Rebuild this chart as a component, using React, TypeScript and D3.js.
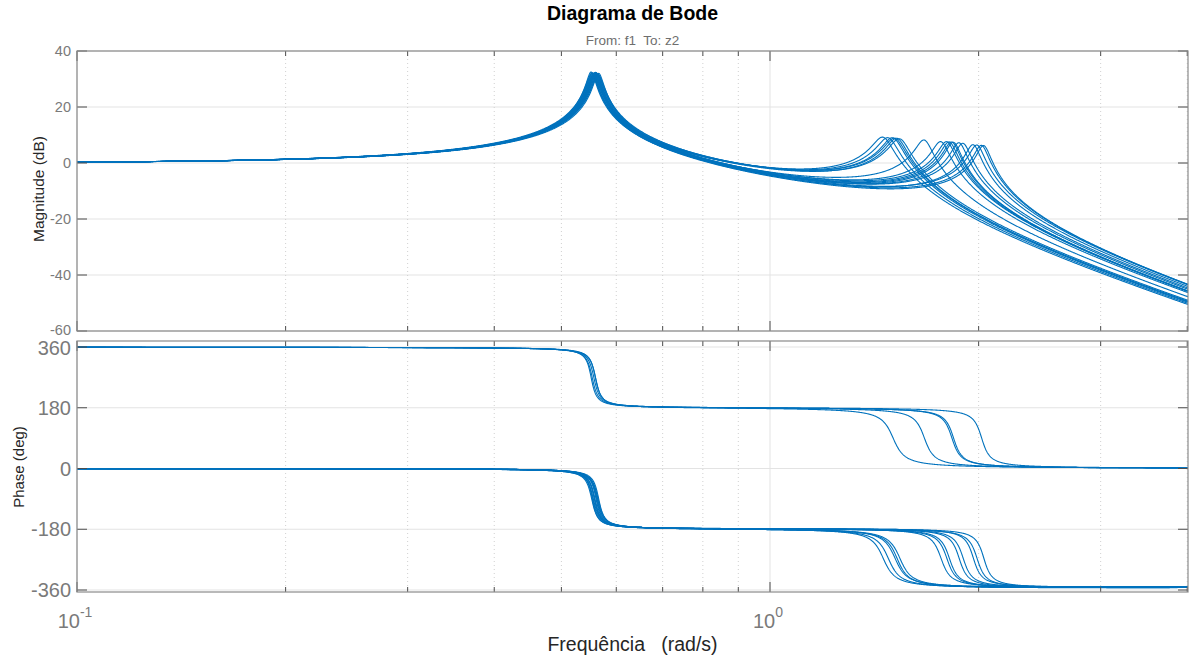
import React from "react";
import * as d3 from "d3";

// Leituras do gráfico (rad/s, dB) — uma entrada por curva da família
const mode1Freq = [0.553, 0.556, 0.56, 0.563, 0.558, 0.565, 0.554, 0.561, 0.557, 0.564, 0.552, 0.559, 0.562, 0.555, 0.566, 0.56, 0.554, 0.558];
const mode1PeakDb = [32.0, 31.6, 32.4, 31.8, 32.2, 31.5, 32.0, 32.3, 31.7, 31.9, 32.5, 31.6, 32.1, 31.8, 32.0, 31.9, 32.2, 31.7];
const mode2Freq = [1.457, 1.482, 1.505, 1.515, 1.526, 1.54, 1.67, 1.765, 1.83, 1.8, 1.84, 1.815, 1.9, 1.965, 1.99, 2.02, 2.035, 1.875];
const mode2PeakDb = [9.2, 9.0, 9.0, 8.8, 8.8, 8.6, 8.2, 7.6, 7.5, 7.6, 7.4, 7.5, 7.0, 6.5, 6.4, 6.3, 6.2, 7.2];
// fase inicial exibida (0° ou 360°, como no gráfico)
const phaseStart = [0, 0, 360, 0, 0, 0, 360, 0, 360, 0, 360, 0, 0, 0, 0, 360, 0, 0];
// zero do amortecedor (rad/s); 0 = sem zero
const zeroFreq = [30, 36, 0, 26, 40, 32, 0, 28, 0, 38, 0, 34, 30, 26, 42, 0, 32, 36];

const magTicks = [-60, -40, -20, 0, 20, 40];
const phaseTicks = [-360, -180, 0, 180, 360];
const freqMajorTicks = [0.1, 1];
const freqMinorTicks = [0.2, 0.3, 0.4, 0.5, 0.6, 0.7, 0.8, 0.9, 2, 3, 4];
const freqTickLabels = [
  { value: 0.1, base: "10", exp: "-1" },
  { value: 1, base: "10", exp: "0" },
];

const W = 1196;
const H = 662;
const left = 77;
const right = 1188;
const magTop = 51;
const magBottom = 331;
const phTop = 341;
const phBottom = 592;

const font = "'Liberation Sans', Arial, sans-serif";
const lineColor = "#0072BD";
const gridColor = "#e3e3e3";
const boxColor = "#8a8a8a";
const tickColor = "#4d4d4d";
const labelGray = "#7a7a7a";

const x = d3.scaleLog().domain([0.1, 4.01]).range([left, right]);
const yMag = d3.scaleLinear().domain([-60, 40]).range([magBottom, magTop]);
const yPh = d3.scaleLinear().domain([-360, 360]).range([590, 347]);

// amostras de frequência (log) para traçar a resposta
const freqs = d3.range(0, 2401).map((k) => Math.pow(10, -1 + (k / 2400) * Math.log10(40.1)));

function buildCurve(i: number) {
  const w1 = mode1Freq[i];
  const w2 = mode2Freq[i];
  const wz = zeroFreq[i];
  const z1 = 1 / Math.abs(1 - (w1 / w2) ** 2) / (2 * Math.pow(10, mode1PeakDb[i] / 20));
  const z2 = 1 / Math.abs(1 - (w2 / w1) ** 2) / (2 * Math.pow(10, mode2PeakDb[i] / 20));
  return freqs.map((w) => {
    const r1 = w / w1;
    const r2 = w / w2;
    const a = 1 - r1 * r1;
    const b = 2 * z1 * r1;
    const c = 1 - r2 * r2;
    const d = 2 * z2 * r2;
    const num = wz > 0 ? Math.sqrt(1 + (w / wz) ** 2) : 1;
    const lead = wz > 0 ? Math.atan(w / wz) : 0;
    const mag = num / (Math.sqrt(a * a + b * b) * Math.sqrt(c * c + d * d));
    const ph = ((lead - Math.atan2(b, a) - Math.atan2(d, c)) * 180) / Math.PI + phaseStart[i];
    return { w, db: 20 * Math.log10(mag), ph };
  });
}

const curves = mode1Freq.map((_, i) => buildCurve(i));

const magLine = d3
  .line<{ w: number; db: number; ph: number }>()
  .x((d) => x(d.w))
  .y((d) => yMag(d.db));
const phLine = d3
  .line<{ w: number; db: number; ph: number }>()
  .x((d) => x(d.w))
  .y((d) => yPh(d.ph));

function Frame({ top, bottom, yTicks, yScale }: any) {
  return (
    <g>
      {/* grade horizontal */}
      {yTicks.map((t: number) => (
        <line key={"g" + t} x1={left} x2={right} y1={yScale(t)} y2={yScale(t)} stroke={gridColor} strokeWidth={1} />
      ))}
      {/* grade vertical */}
      {freqMinorTicks.map((f) => (
        <line key={"m" + f} x1={x(f)} x2={x(f)} y1={top} y2={bottom} stroke="#d0d0d0" strokeWidth={1} strokeDasharray="1,3" />
      ))}
      {freqMajorTicks.map((f) => (
        <line key={"M" + f} x1={x(f)} x2={x(f)} y1={top} y2={bottom} stroke={gridColor} strokeWidth={1} />
      ))}
    </g>
  );
}

function FrameTicks({ top, bottom, yTicks, yScale }: any) {
  return (
    <g stroke={tickColor} strokeWidth={1}>
      {yTicks.map((t: number) => (
        <g key={"t" + t}>
          <line x1={left} x2={left + 10} y1={yScale(t)} y2={yScale(t)} />
          <line x1={right - 10} x2={right} y1={yScale(t)} y2={yScale(t)} />
        </g>
      ))}
      {freqMinorTicks.map((f) => (
        <g key={"mt" + f}>
          <line x1={x(f)} x2={x(f)} y1={bottom} y2={bottom - 5} />
          <line x1={x(f)} x2={x(f)} y1={top} y2={top + 5} />
        </g>
      ))}
      {freqMajorTicks.map((f) => (
        <g key={"Mt" + f}>
          <line x1={x(f)} x2={x(f)} y1={bottom} y2={bottom - 10} />
          <line x1={x(f)} x2={x(f)} y1={top} y2={top + 10} />
        </g>
      ))}
      <rect x={left} y={top} width={right - left} height={bottom - top} fill="none" stroke={boxColor} strokeWidth={1.2} />
    </g>
  );
}

export default function App() {
  return (
    <svg
      width={W}
      height={H}
      style={{ position: "absolute", left: 0, top: 0, background: "#fff", fontFamily: font }}
    >
      <rect x={0} y={0} width={W} height={H} fill="#fff" />

      <text x={(left + right) / 2} y={20} textAnchor="middle" fontSize={19.5} fontWeight="bold" fill="#000">
        Diagrama de Bode
      </text>
      <text x={(left + right) / 2} y={45} textAnchor="middle" fontSize={13.5} fill="#6e6e6e" style={{ whiteSpace: "pre" }}>
        {"From: f1  To: z2"}
      </text>

      <Frame top={magTop} bottom={magBottom} yTicks={magTicks} yScale={yMag} />
      <Frame top={phTop} bottom={phBottom} yTicks={phaseTicks} yScale={yPh} />

      <g fill="none" stroke={lineColor} strokeWidth={1.1}>
        {curves.map((c, i) => (
          <path key={"mag" + i} d={magLine(c) || ""} />
        ))}
        {curves.map((c, i) => (
          <path key={"ph" + i} d={phLine(c) || ""} />
        ))}
      </g>

      <FrameTicks top={magTop} bottom={magBottom} yTicks={magTicks} yScale={yMag} />
      <FrameTicks top={phTop} bottom={phBottom} yTicks={phaseTicks} yScale={yPh} />

      {/* rótulos dos eixos y */}
      {magTicks.map((t) => (
        <text key={"ml" + t} x={71} y={yMag(t) - (t === -60 ? 1 : 0)} dy="0.35em" textAnchor="end" fontSize={14.5} fill={labelGray}>
          {t}
        </text>
      ))}
      {phaseTicks.map((t) => (
        <text key={"pl" + t} x={71} y={yPh(t) + (t === 360 ? 1 : 0)} dy="0.36em" textAnchor="end" fontSize={20} fill={labelGray}>
          {t}
        </text>
      ))}

      {freqTickLabels.map((t) => (
        <text key={"xl" + t.value} x={x(t.value) - 2} y={628} textAnchor="middle" fill={labelGray} fontSize={20}>
          {t.base}
          <tspan dy={-11} fontSize={14}>
            {t.exp}
          </tspan>
        </text>
      ))}

      <text transform="translate(44,189) rotate(-90)" textAnchor="middle" fontSize={15.5} fill="#262626">
        Magnitude (dB)
      </text>
      <text transform="translate(24,467) rotate(-90)" textAnchor="middle" fontSize={15} fill="#262626">
        Phase (deg)
      </text>
      <text x={(left + right) / 2} y={651} textAnchor="middle" fontSize={19.5} fill="#262626" style={{ whiteSpace: "pre" }}>
        {"Frequência   (rad/s)"}
      </text>
    </svg>
  );
}
